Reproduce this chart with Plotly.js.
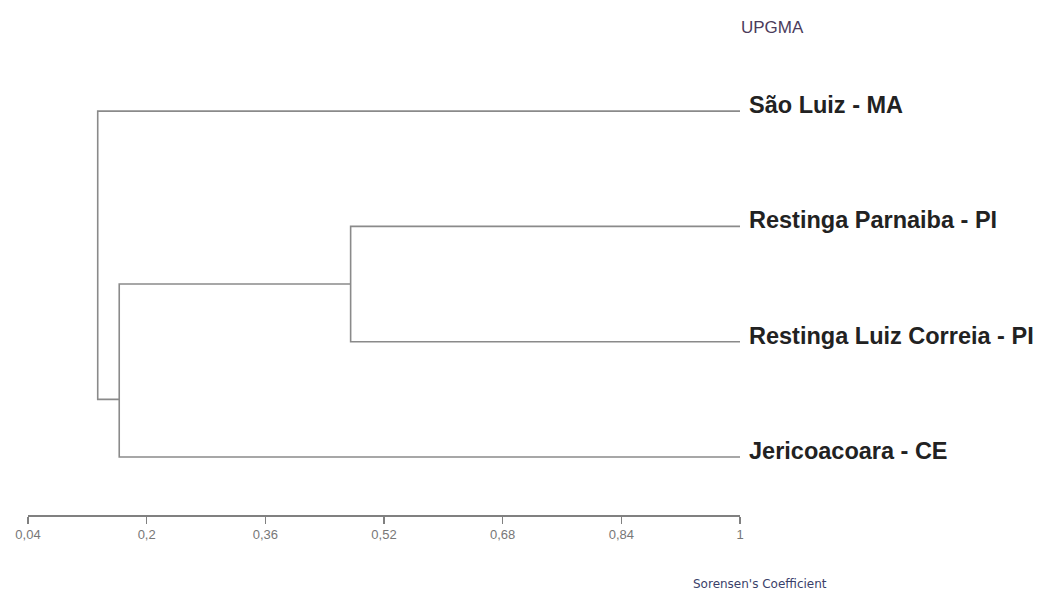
<!DOCTYPE html>
<html><head><meta charset="utf-8">
<script src="https://cdn.plot.ly/plotly-3.0.1.min.js"></script>
<style>html,body{margin:0;padding:0;background:#fff}#c{width:1044px;height:594px}</style>
</head><body><div id="c"></div>
<script>
// Leaves (top to bottom) and their vertical positions
const leaves = ["São Luiz - MA", "Restinga Parnaiba - PI", "Restinga Luiz Correia - PI", "Jericoacoara - CE"];
const leafY = [4, 3, 2, 1];
const leafSim = 1;
// Merge nodes: similarity level (Sorensen), children y positions, attachment y
const nodeNames = ["Parnaiba+LuizCorreia", "+Jericoacoara", "root"];
const nodeSim = [0.475, 0.163, 0.134];
const childATop = [3, 2.5, 4];
const childBBottom = [2, 1, 1.5];
const childASim = [1, 0.475, 1];
const childBSim = [1, 1, 0.163];
const tickVals = [0.04, 0.2, 0.36, 0.52, 0.68, 0.84, 1];
const tickText = ["0,04", "0,2", "0,36", "0,52", "0,68", "0,84", "1"];

const M = {l: 28, r: 304, t: 60, b: 79};
const W = 1044, H = 594;
const pw = W - M.l - M.r, ph = H - M.t - M.b;

const lineStyle = {color: "#8a8a8a", width: 1.6};
const traces = nodeSim.map((s, i) => ({
  type: "scatter", mode: "lines", hoverinfo: "skip", showlegend: false,
  x: [childASim[i], s, s, childBSim[i]],
  y: [childATop[i], childATop[i], childBBottom[i], childBBottom[i]],
  line: lineStyle, name: nodeNames[i]
}));

const annotations = leaves.map((t, i) => ({
  x: leafSim, y: leafY[i], xref: "x", yref: "y", text: "<b>" + t + "</b>",
  showarrow: false, xanchor: "left", yanchor: "middle", xshift: 7, yshift: 6,
  font: {family: "Liberation Sans, Arial, sans-serif", size: 23.5, color: "#222"}
}));
function pix(px, py, a) {
  a.xref = "paper"; a.yref = "paper";
  a.x = (px - M.l) / pw; a.y = (H - M.b - py) / ph;
  a.xanchor = "center"; a.yanchor = "middle"; a.showarrow = false;
  return a;
}
annotations.push(pix(772, 27, {text: "UPGMA",
  font: {family: "Liberation Sans Narrow, Liberation Sans, Arial", size: 17, color: "#4b3b5b"}}));
annotations.push(pix(760, 584, {text: "Sorensen's Coefficient",
  font: {family: "DejaVu Sans, sans-serif", size: 12, color: "#3a3f6a"}}));

const layout = {
  width: W, height: H,
  margin: {l: M.l, r: M.r, t: M.t, b: M.b, pad: 0},
  paper_bgcolor: "#fff", plot_bgcolor: "#fff",
  xaxis: {
    range: [0.04, 1], showgrid: false, zeroline: false,
    showline: true, linecolor: "#808080", linewidth: 1.5,
    ticks: "outside", ticklen: 7, tickcolor: "#808080", tickwidth: 1.3,
    tickvals: tickVals, ticktext: tickText,
    tickfont: {family: "Liberation Sans, Arial", size: 13, color: "#777"}
  },
  yaxis: {range: [0.497, 4.443], visible: false, showgrid: false, zeroline: false},
  annotations: annotations
};
Plotly.newPlot("c", traces, layout, {displayModeBar: false, staticPlot: true});
</script></body></html>
